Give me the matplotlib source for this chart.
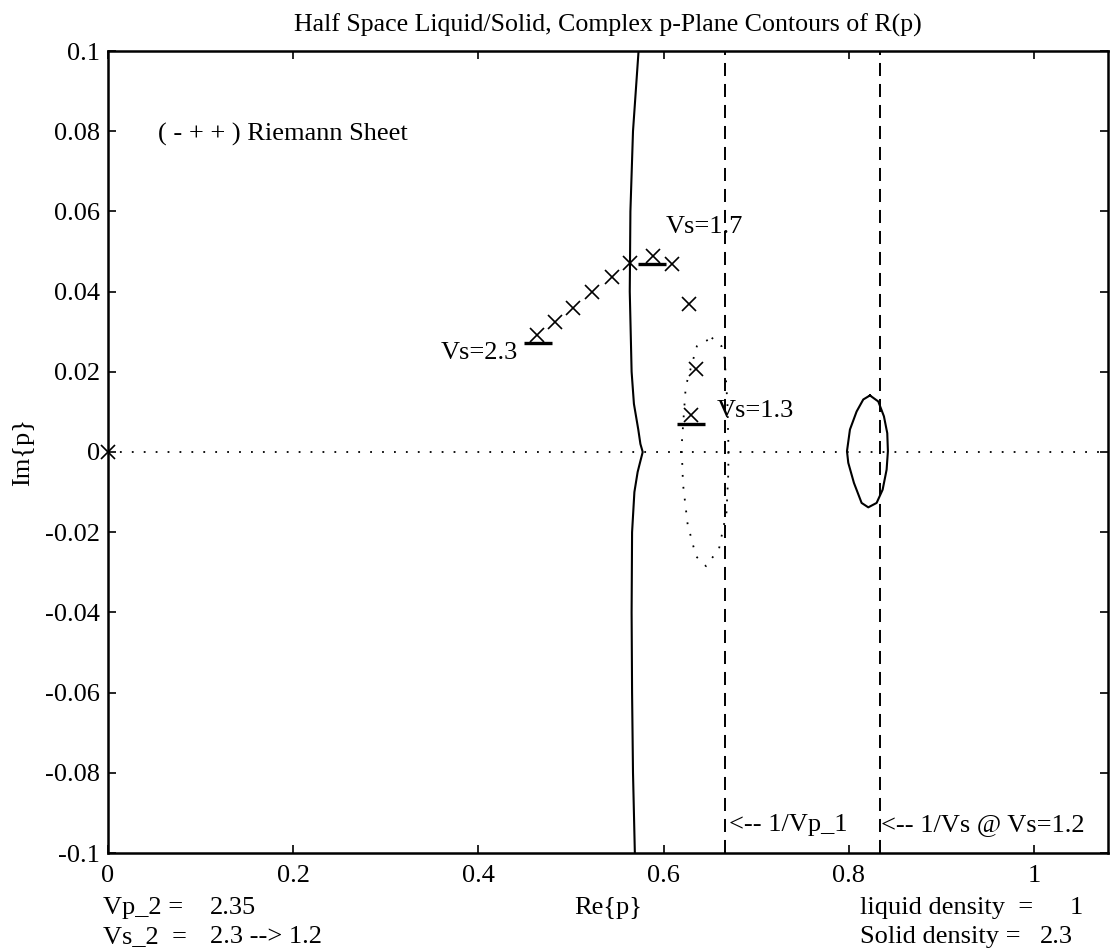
import numpy as np
import matplotlib
matplotlib.use('Agg')
import matplotlib.pyplot as plt

plt.rcParams['font.family'] = ['Liberation Serif', 'DejaVu Serif']

# pole track, Vs = 2.3 --> 1.2 (crosses)
pole_re = [0.463, 0.483, 0.502, 0.523, 0.544, 0.564, 0.589, 0.609, 0.628, 0.635, 0.630]
pole_im = [0.0293, 0.0324, 0.0360, 0.0399, 0.0436, 0.0472, 0.0490, 0.0468, 0.0370, 0.0206, 0.0093]

# underline bars marking the labelled poles
bar_re = [0.464, 0.587, 0.630]
bar_im = [0.0272, 0.0470, 0.0070]
bar_text = ['Vs=2.3', 'Vs=1.7', 'Vs=1.3']
text_re = [0.443, 0.602, 0.657]
text_im = [0.0246, 0.0560, 0.0103]
text_ha = ['right', 'left', 'left']

# branch cut type contour (solid, near Re=0.57)
cut_re = [0.573, 0.567, 0.5642, 0.5635, 0.5645, 0.5655, 0.568, 0.5727, 0.575, 0.5775,
          0.5745, 0.572, 0.5685, 0.566, 0.5655, 0.566, 0.567, 0.569]
cut_im = [0.1, 0.08, 0.06, 0.04, 0.03, 0.02, 0.012, 0.0056, 0.002, 0.0,
          -0.0027, -0.005, -0.01, -0.02, -0.04, -0.06, -0.08, -0.1]

# dotted closed contour
dot_re = [0.652, 0.6626, 0.666, 0.669, 0.670, 0.670, 0.668, 0.660, 0.646, 0.635,
          0.626, 0.621, 0.6195, 0.624, 0.636, 0.652]
dot_im = [0.0285, 0.0264, 0.0233, 0.012, 0.002, -0.005, -0.015, -0.024, -0.0285, -0.026,
          -0.018, -0.008, 0.0014, 0.0164, 0.0264, 0.0285]

# solid closed contour near 1/Vs
loop_re = [0.8229, 0.8319, 0.838, 0.8416, 0.8423, 0.8409, 0.8366, 0.8301, 0.8211, 0.8139,
           0.8056, 0.7995, 0.7981, 0.8013, 0.8085, 0.8157, 0.8229]
loop_im = [0.0141, 0.0126, 0.0089, 0.0047, 0.0002, -0.0044, -0.0094, -0.0127, -0.0138, -0.0127,
           -0.0077, -0.0027, 0.0002, 0.0056, 0.0101, 0.0131, 0.0141]

vp1 = 1.5
vs_end = 1.2

fig = plt.figure(figsize=(11.15, 9.51), dpi=100)
ax = fig.add_axes([108/1115, 1 - 853/951, 1000/1115, 802/951])

dotted = (0, (1, 5.6))
ax.axhline(0, color='k', lw=1.3, ls=dotted)
ax.plot(cut_re, cut_im, color='k', lw=1.5)
ax.plot(dot_re, dot_im, color='k', lw=1.3, ls=dotted)
ax.plot(loop_re, loop_im, color='k', lw=1.5)
ax.axvline(1/vp1, color='k', lw=1.4, ls=(0, (6.7, 4.1)))
ax.axvline(1/vs_end, color='k', lw=1.4, ls=(0, (6.7, 4.1)))

ax.plot(pole_re, pole_im, ls='none', marker='x', ms=10.5, mew=1.2, color='k')
ax.plot([0], [0], ls='none', marker='x', ms=10.5, mew=1.2, color='k', clip_on=False)
ax.plot(bar_re, bar_im, ls='none', marker='_', ms=20, mew=2.4, color='k')
for t, xr, yi, ha in zip(bar_text, text_re, text_im, text_ha):
    ax.text(xr, yi, t, ha=ha, va='center', fontsize=19)

ax.text(0.054, 0.0793, '( - + + ) Riemann Sheet', ha='left', va='center', fontsize=19)
ax.text(1/vp1 + 0.004, -0.093, '<-- 1/Vp_1', ha='left', va='center', fontsize=19)
ax.text(1/vs_end + 0.002, -0.093, '<-- 1/Vs @ Vs=1.2', ha='left', va='center', fontsize=19)

ax.set_xlim(0, 1.08)
ax.set_ylim(-0.1, 0.1)
ax.set_xticks([0, 0.2, 0.4, 0.6, 0.8, 1])
ax.set_xticklabels(['0', '0.2', '0.4', '0.6', '0.8', '1'])
ax.set_yticks(np.arange(-0.1, 0.101, 0.02))
ax.set_yticklabels(['-0.1', '-0.08', '-0.06', '-0.04', '-0.02', '0',
                    '0.02', '0.04', '0.06', '0.08', '0.1'])
ax.tick_params(direction='in', length=6, width=1.2, labelsize=19,
               top=True, right=True)
ax.tick_params(axis='x', pad=8.5)
ax.tick_params(axis='y', pad=5.5)
for s in ax.spines.values():
    s.set_linewidth(1.8)

ax.set_title('Half Space Liquid/Solid, Complex p-Plane Contours of R(p)', fontsize=18.6, pad=14)
ax.set_xlabel('Re{p}', fontsize=19, labelpad=7)
ax.set_ylabel('Im{p}', fontsize=19, labelpad=8)

fig.text(103/1115, 1 - 908/951, 'Vp_2 =', ha='left', va='center', fontsize=19)
fig.text(210/1115, 1 - 908/951, '2.35', ha='left', va='center', fontsize=19)
fig.text(103/1115, 1 - 937/951, 'Vs_2  =', ha='left', va='center', fontsize=19)
fig.text(210/1115, 1 - 937/951, '2.3 --> 1.2', ha='left', va='center', fontsize=19)
fig.text(860/1115, 1 - 908/951, 'liquid density  =', ha='left', va='center', fontsize=19)
fig.text(1070/1115, 1 - 908/951, '1', ha='left', va='center', fontsize=19)
fig.text(860/1115, 1 - 937/951, 'Solid density =', ha='left', va='center', fontsize=19)
fig.text(1040/1115, 1 - 937/951, '2.3', ha='left', va='center', fontsize=19)

fig.savefig('out.png', dpi=100)
